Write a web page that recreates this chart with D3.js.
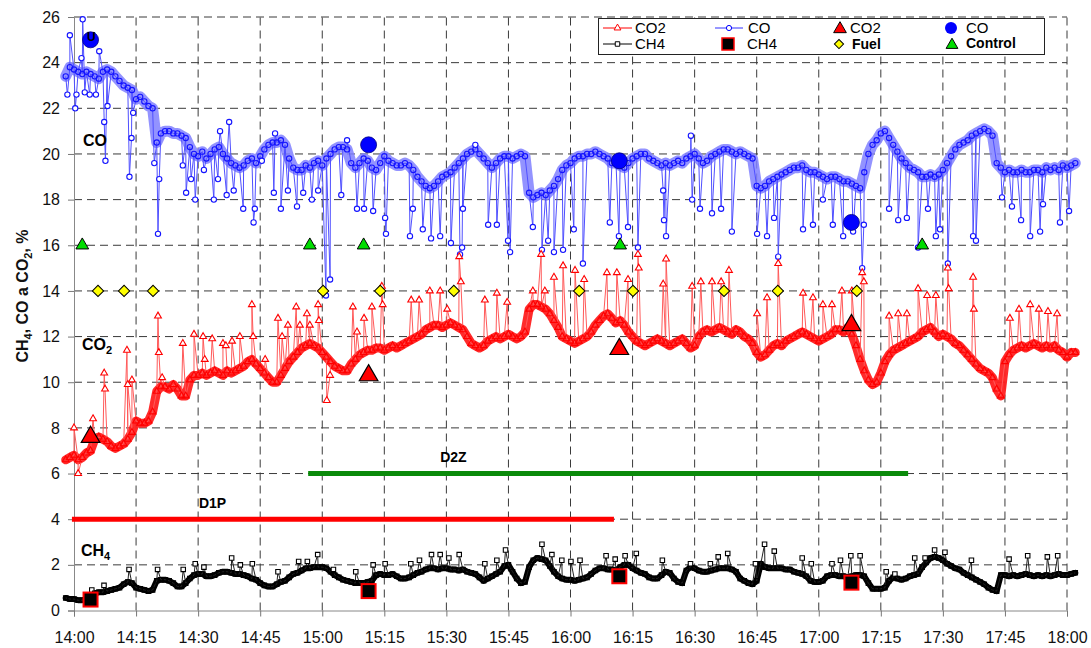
<!DOCTYPE html>
<html>
<head>
<meta charset="utf-8">
<script src="https://cdn.jsdelivr.net/npm/d3@7"></script>
<style>
  body { margin: 0; background: #fff; }
  svg { display: block; font-family: "Liberation Sans", Arial, sans-serif; }
</style>
</head>
<body>
<div id="chart"></div>
<script>
// minutes after 14:00 of the first value in each per-minute series
const startMinute = -2;

const xTickMinutes = [0, 15, 30, 45, 60, 75, 90, 105, 120, 135, 150, 165, 180, 195, 210, 225, 240];
const xTickLabels = ["14:00", "14:15", "14:30", "14:45", "15:00", "15:15", "15:30", "15:45",
  "16:00", "16:15", "16:30", "16:45", "17:00", "17:15", "17:30", "17:45", "18:00"];
const yTicks = [0, 2, 4, 6, 8, 10, 12, 14, 16, 18, 20, 22, 24, 26];

// CO, %  (one value per minute, from 13:58)
const coValues = [
  23.4, 23.8, 23.7, 23.6, 23.5, 23.6, 23.5,
  23.4, 23.3, 23.6, 23.7, 23.6, 23.4, 23.2, 23.0, 22.9, 22.8,
  22.4, 22.5, 22.3, 22.1, 22.0, 20.5, 20.9, 21.0, 21.0, 20.9,
  20.9, 20.8, 20.7, 20.3, 20.0, 19.9, 20.1, 19.8, 20.0, 20.2,
  20.3, 20.0, 19.8, 19.6, 19.5, 19.4, 19.5, 19.7, 19.8, 19.6,
  19.9, 20.2, 20.4, 20.5, 20.5, 20.6, 20.4, 19.8, 19.4, 19.3,
  19.3, 19.5, 19.4, 19.6, 19.7, 19.5, 19.8, 20.0, 20.2, 20.3,
  20.3, 20.2, 19.6, 19.4, 19.6, 19.8, 19.7, 19.4, 19.3, 19.6,
  19.9, 19.7, 19.6, 19.5, 19.5, 19.6, 19.5, 19.3, 19.0, 18.8,
  18.6, 18.5, 18.6, 18.8, 19.0, 19.1, 19.2, 19.4, 19.6, 19.8,
  20.0, 20.1, 20.2, 20.0, 19.8, 19.6, 19.4, 19.6, 19.8, 19.9,
  19.9, 19.8, 19.9, 20.0, 19.9, 18.3, 18.1, 18.2, 18.3, 18.2,
  18.4, 18.6, 18.9, 19.3, 19.5, 19.6, 19.8, 19.9, 19.9, 20.0,
  20.0, 20.1, 20.0, 19.9, 19.8, 19.6, 19.6, 19.5, 19.4, 19.6,
  19.8, 19.9, 20.0, 20.0, 19.8, 19.7, 19.6, 19.5, 19.6, 19.5,
  19.6, 19.7, 19.6, 19.8, 19.9, 20.0, 19.8, 19.6, 19.7, 19.9,
  20.0, 20.1, 20.2, 20.2, 20.1, 20.0, 20.1, 20.0, 19.9, 19.8,
  18.6, 18.5, 18.6, 18.8, 18.9, 19.0, 19.1, 19.2, 19.3, 19.4,
  19.4, 19.5, 19.3, 19.2, 19.2, 19.1, 19.0, 18.9, 19.0, 19.0,
  18.9, 18.8, 18.8, 18.7, 18.6, 18.5, 19.2, 20.0, 20.4, 20.6,
  20.9, 21.0, 20.7, 20.4, 20.1, 19.8, 19.6, 19.4, 19.3, 19.2,
  19.0, 19.0, 19.1, 19.0, 19.1, 19.3, 19.6, 19.9, 20.2, 20.4,
  20.5, 20.6, 20.8, 20.9, 21.0, 21.1, 21.0, 20.8, 19.6, 19.4,
  19.2, 19.3, 19.2, 19.2, 19.3, 19.2, 19.2, 19.3, 19.3, 19.2,
  19.4, 19.3, 19.4, 19.3, 19.5, 19.4, 19.5, 19.6
];
// single CO readings: [minute, %]
const coSpikes = [
  [-1, 25.2], [-1.6, 22.6], [0.3, 22.0], [0.6, 22.6], [1.8, 24.2], [2.1, 25.9], [2.6, 22.7],
  [3.8, 22.6], [5.3, 22.6], [6.1, 24.5], [7.3, 21.4], [7.6, 19.7], [8.1, 22.1],
  [13.4, 19.0], [13.9, 20.7], [14.3, 21.8], [19.4, 19.6], [20.3, 16.5], [20.6, 18.9],
  [26.3, 19.5], [27.1, 18.3], [28.3, 18.9], [29.3, 18.0], [31.4, 19.3], [33.8, 18.0],
  [34.8, 18.9], [35.3, 21.0], [36.9, 18.2], [37.5, 21.4], [38.6, 18.4], [40.9, 17.6],
  [43.4, 17.0], [43.7, 17.6], [45.4, 19.7], [48.3, 18.3], [48.6, 20.9], [50.0, 17.6],
  [51.7, 18.4], [53.9, 17.7], [55.4, 18.3], [57.5, 18.0], [59.0, 18.4], [60.9, 13.8],
  [61.9, 14.5], [64.6, 18.2], [66.0, 20.6], [68.4, 17.6], [70.1, 17.6], [72.3, 17.5],
  [75.2, 17.2], [75.4, 16.5], [81.2, 16.4], [81.9, 17.6], [84.3, 16.7], [86.3, 16.3],
  [88.5, 16.4], [91.1, 16.1], [93.3, 15.6], [93.8, 15.9], [94.0, 17.6], [97.0, 20.4],
  [100.1, 16.9], [102.2, 16.9], [104.9, 16.2], [105.4, 15.7], [110.9, 16.8], [113.1, 15.8],
  [114.6, 16.2], [116.0, 15.7], [118.2, 15.8], [120.8, 16.7], [123.0, 15.2], [129.5, 17.0],
  [131.7, 16.4], [133.9, 16.8], [136.3, 15.9], [142.4, 18.4], [142.6, 17.1], [143.1, 16.4],
  [149.1, 20.8], [149.4, 18.0], [151.3, 17.6], [154.2, 17.4], [156.4, 17.6], [159.0, 16.6],
  [165.1, 16.5], [167.5, 16.4], [169.2, 17.2], [170.2, 15.5], [176.2, 16.7], [178.6, 16.9],
  [181.0, 18.0], [183.4, 16.9], [185.9, 16.4], [188.3, 16.6], [190.5, 15.0], [190.9, 16.9],
  [197.0, 17.6], [199.2, 17.1], [201.3, 17.2], [204.0, 15.9], [206.4, 17.6], [208.3, 16.4],
  [209.3, 16.7], [211.2, 15.2], [217.3, 16.4], [218.0, 16.2], [224.3, 18.1], [226.7, 17.7],
  [228.9, 17.1], [231.1, 16.4], [233.5, 16.6], [234.2, 17.8], [238.3, 17.0], [240.5, 17.5]
];

// CO2, %  (one value per minute, from 13:58)
const co2Values = [
  6.6, 6.7, 6.8, 6.6, 6.7, 6.9, 7.0,
  7.5, 7.6, 7.5, 7.4, 7.2, 7.1, 7.2, 7.3, 7.5, 7.8,
  8.3, 8.2, 8.2, 8.3, 8.7, 9.6, 9.8, 9.8, 9.7, 9.9,
  9.7, 9.4, 9.4, 10.1, 10.3, 10.3, 10.4, 10.3, 10.4, 10.5,
  10.4, 10.3, 10.5, 10.4, 10.5, 10.6, 10.7, 10.9, 11.0, 10.8,
  10.6, 10.4, 10.2, 10.0, 10.0, 10.3, 10.6, 10.9, 11.1, 11.3,
  11.5, 11.6, 11.7, 11.6, 11.5, 11.3, 11.1, 10.9, 10.7, 10.6,
  10.5, 10.5, 10.8, 11.0, 11.2, 11.3, 11.4, 11.4, 11.5, 11.5,
  11.4, 11.5, 11.6, 11.5, 11.6, 11.7, 11.8, 11.9, 12.0, 12.1,
  12.3, 12.4, 12.5, 12.5, 12.4, 12.5, 12.6, 12.5, 12.4, 12.3,
  12.0, 11.7, 11.6, 11.5, 11.6, 11.8, 11.9, 12.0, 11.9, 12.0,
  12.1, 12.0, 11.9, 12.0, 12.2, 13.2, 13.4, 13.4, 13.3, 13.2,
  13.0, 12.7, 12.4, 12.0, 11.9, 11.8, 11.7, 11.8, 11.9, 12.0,
  12.2, 12.5, 12.7, 12.9, 13.0, 12.8, 12.6, 12.7, 12.5, 12.2,
  12.0, 11.8, 11.7, 11.6, 11.7, 11.8, 11.9, 11.8, 11.7, 11.6,
  11.7, 11.8, 11.9, 11.7, 11.5, 11.6, 12.0, 12.2, 12.3, 12.2,
  12.3, 12.4, 12.3, 12.2, 12.1, 12.3, 12.2, 12.0, 11.9, 11.7,
  11.3, 11.1, 11.2, 11.4, 11.6, 11.7, 11.6, 11.8, 11.9, 12.0,
  12.1, 12.2, 12.1, 12.0, 11.9, 11.8, 11.9, 12.0, 12.1, 12.3,
  12.3, 12.2, 12.4, 12.1, 11.6, 11.0, 10.5, 10.1, 9.9, 10.0,
  10.4, 10.9, 11.2, 11.4, 11.5, 11.6, 11.7, 11.8, 11.9, 12.0,
  12.2, 12.3, 12.4, 12.2, 12.0, 12.1, 12.0, 11.9, 11.7, 11.6,
  11.4, 11.2, 11.0, 10.8, 10.6, 10.5, 10.4, 10.2, 9.7, 9.4,
  10.9, 11.2, 11.4, 11.5, 11.6, 11.5, 11.6, 11.7, 11.6, 11.5,
  11.6, 11.5, 11.6, 11.4, 11.3, 11.1, 11.3, 11.3
];
const co2Spikes = [
  [0.0, 8.0], [1.0, 6.0], [4.6, 8.4], [7.3, 10.4], [7.5, 9.7], [12.8, 11.4], [13.0, 9.9],
  [14.0, 10.1], [20.3, 12.9], [20.5, 11.3], [21.3, 10.2], [26.3, 11.7], [29.0, 12.1],
  [31.2, 12.0], [31.6, 11.0], [33.4, 11.9], [36.0, 11.7], [36.7, 11.6], [38.2, 11.8],
  [40.1, 12.0], [43.0, 13.4], [43.3, 12.0], [46.2, 11.0], [49.3, 12.8], [50.3, 12.0],
  [51.7, 12.5], [53.7, 13.3], [54.6, 12.5], [56.3, 13.0], [57.0, 12.5], [59.0, 13.4],
  [59.2, 12.7], [61.1, 9.2], [61.9, 10.3], [67.4, 13.3], [68.4, 12.2], [70.1, 12.8],
  [72.0, 13.3], [74.4, 14.2], [74.6, 13.4], [81.5, 13.6], [83.4, 13.6], [86.0, 14.0],
  [88.5, 14.0], [90.2, 13.2], [93.1, 15.5], [93.5, 14.4], [99.3, 13.6], [102.2, 13.9],
  [104.7, 13.5], [110.9, 14.0], [112.9, 15.6], [113.8, 14.0], [116.0, 14.6], [118.2, 15.1],
  [121.1, 14.9], [123.3, 14.5], [128.8, 14.8], [131.2, 14.8], [133.9, 14.5], [136.3, 15.6],
  [136.5, 15.0], [142.4, 14.3], [143.1, 15.4], [149.4, 14.2], [151.5, 14.4], [154.2, 14.4],
  [156.4, 14.4], [158.3, 14.9], [165.1, 13.0], [167.5, 13.7], [170.2, 15.2], [176.2, 13.9],
  [178.6, 13.7], [181.0, 13.4], [183.2, 13.4], [185.6, 14.0], [188.0, 14.0], [190.5, 14.8],
  [190.9, 14.4], [197.0, 12.9], [199.2, 13.0], [201.3, 13.0], [204.0, 14.1], [206.2, 13.8],
  [208.3, 13.8], [211.2, 15.0], [211.4, 14.1], [217.3, 14.6], [217.5, 13.2], [226.2, 12.8],
  [228.4, 13.2], [231.1, 13.4], [233.2, 13.2], [235.4, 13.1], [237.6, 13.0]
];

// CH4, %  (one value per minute, from 13:58)
const ch4Values = [
  0.55, 0.5, 0.5, 0.45, 0.45, 0.5, 0.55,
  0.75, 0.8, 0.8, 0.85, 0.9, 0.95, 1.0, 1.15, 1.25, 1.2,
  1.0, 0.95, 0.9, 0.85, 0.9, 1.3, 1.35, 1.35, 1.3, 1.2,
  1.05, 1.05, 1.2, 1.4, 1.55, 1.6, 1.6, 1.5, 1.5, 1.55,
  1.65, 1.7, 1.7, 1.65, 1.6, 1.6, 1.55, 1.5, 1.4, 1.35,
  1.2, 1.1, 1.05, 1.05, 1.15, 1.25, 1.3, 1.45, 1.6, 1.65,
  1.75, 1.85, 1.85, 1.9, 1.9, 1.9, 1.85, 1.7, 1.55, 1.45,
  1.35, 1.3, 1.25, 1.2, 1.2, 1.2, 1.25, 1.3, 1.55, 1.6,
  1.55, 1.55, 1.6, 1.5, 1.4, 1.4, 1.45, 1.55, 1.65, 1.7,
  1.8, 1.85, 1.85, 1.8, 1.85, 1.85, 1.8, 1.8, 1.75, 1.8,
  1.7, 1.65, 1.6, 1.45, 1.3, 1.4, 1.5, 1.6, 1.7, 1.95,
  2.0, 1.7, 1.4, 1.2, 1.25, 1.9, 2.2, 2.3, 2.25, 2.2,
  1.95, 1.7, 1.5, 1.4, 1.35, 1.35, 1.3, 1.35, 1.4, 1.45,
  1.6, 1.75, 1.85, 1.85, 1.8, 1.8, 1.75, 1.9, 2.0, 2.0,
  1.85, 1.75, 1.65, 1.6, 1.45, 1.4, 1.4, 1.55, 1.7, 1.65,
  1.4, 1.25, 1.2, 1.75, 1.9, 1.85, 1.75, 1.7, 1.7, 1.75,
  1.8, 1.85, 1.85, 1.85, 1.8, 1.7, 1.4, 1.3, 1.2, 1.15,
  1.3, 2.05, 1.9, 1.85, 1.85, 1.85, 1.85, 1.8, 1.8, 1.7,
  1.65, 1.6, 1.5, 1.3, 1.25, 1.25, 1.3, 1.5, 1.55, 1.55,
  1.5, 1.5, 1.45, 1.5, 1.55, 1.55, 1.5, 1.2, 0.95, 0.95,
  0.95, 1.0, 1.3, 1.45, 1.4, 1.35, 1.4, 1.5, 1.55, 1.6,
  1.9, 2.1, 2.3, 2.35, 2.3, 2.2, 2.05, 1.95, 1.85, 1.8,
  1.65, 1.55, 1.45, 1.35, 1.25, 1.15, 1.0, 0.9, 0.85, 1.55,
  1.55, 1.5, 1.55, 1.5, 1.55, 1.6, 1.55, 1.5, 1.55, 1.5,
  1.55, 1.5, 1.55, 1.6, 1.55, 1.55, 1.6, 1.65
];
const ch4Spikes = [
  [4.3, 0.9], [7.25, 1.1], [13.3, 1.8], [20.2, 1.8], [26.4, 1.8], [29.3, 2.05], [31.4, 1.9],
  [38.1, 2.3], [40.2, 2.0], [43.1, 2.05], [49.3, 1.7], [54.3, 2.15], [56.4, 2.15], [58.9, 2.45],
  [62.7, 1.8], [68.1, 1.7], [72.3, 2.0], [75.2, 2.05], [81.4, 2.05], [83.5, 2.2], [86.4, 2.45],
  [88.5, 2.45], [90.6, 2.3], [93.1, 2.45], [99.3, 2.05], [102.2, 2.2], [104.3, 2.65],
  [113.1, 2.9], [115.5, 2.45], [117.9, 2.2], [120.1, 2.15], [122.3, 2.2], [128.6, 2.4],
  [130.8, 2.25], [133.2, 2.4], [135.9, 2.5], [142.2, 2.2], [149.0, 2.05], [153.8, 2.05],
  [155.7, 2.35], [158.0, 2.5], [164.7, 2.05], [166.9, 2.9], [169.25, 2.6], [176.0, 2.3],
  [178.2, 2.05], [183.2, 2.05], [185.25, 2.2], [187.75, 2.4], [190.0, 2.4], [196.3, 1.7],
  [198.4, 1.6], [203.2, 2.3], [205.7, 2.3], [208.0, 2.65], [210.5, 2.55], [216.9, 2.2],
  [226.0, 2.25], [230.5, 2.4], [235.25, 2.35], [237.75, 2.4]
];

// sample points (large markers)
const sampleMinutes = [4, 71.2, 131.8, 187.9];
const sampleCo = [25.0, 20.4, 19.7, 17.0];
const sampleCo2 = [7.6, 10.3, 11.45, 12.5];
const sampleCh4 = [0.48, 0.85, 1.5, 1.22];

const fuelMinutes = [5.8, 12.1, 19.1, 60.2, 74.0, 91.8, 122.1, 135.1, 157.1, 170.1, 189.2];
const fuelLevel = 14;
const controlMinutes = [2, 57, 70, 132, 205];
const controlLevel = 16;

const phaseNames = ["D1P", "D2Z"];
const phaseStart = [-0.5, 56.6];
const phaseEnd = [130.5, 201.6];
const phaseLevel = [4, 6];

const W = 1091, H = 648;
const svg = d3.select("#chart").append("svg").attr("width", W).attr("height", H);

const x = d3.scaleLinear().domain([0, 240]).range([74, 1067]);
const y = d3.scaleLinear().domain([0, 26]).range([610.5, 17]);

// grid
const grid = svg.append("g").attr("stroke", "#3a3a3a").attr("stroke-dasharray", "8,5");
grid.selectAll("line.h").data(yTicks.filter((d) => d > 0)).join("line")
  .attr("x1", x(0)).attr("x2", x(240))
  .attr("y1", (d) => y(d)).attr("y2", (d) => y(d));
grid.selectAll("line.v").data(xTickMinutes.filter((d) => d > 0)).join("line")
  .attr("x1", (d) => x(d)).attr("x2", (d) => x(d))
  .attr("y1", y(0)).attr("y2", y(26));

// axes
const yAxis = svg.append("g")
  .attr("transform", `translate(${x(0)},0)`)
  .call(d3.axisLeft(y).tickValues(yTicks).tickSize(6).tickPadding(8));
const xAxis = svg.append("g")
  .attr("transform", `translate(0,${y(0)})`)
  .call(d3.axisBottom(x).tickValues(xTickMinutes).tickFormat((d, i) => xTickLabels[i]).tickSize(6).tickPadding(15));
for (const ax of [yAxis, xAxis]) {
  ax.attr("font-family", null).attr("font-size", null);
  ax.select(".domain").attr("stroke", "#888");
  ax.selectAll(".tick line").attr("stroke", "#777");
  ax.selectAll(".tick text").attr("font-size", "16px").attr("fill", "#111");
}

// y title
const yTitle = svg.append("text")
  .attr("transform", "translate(28,296) rotate(-90)")
  .attr("text-anchor", "middle")
  .attr("font-size", "16px").attr("font-weight", "bold").attr("fill", "#111");
yTitle.append("tspan").text("CH");
yTitle.append("tspan").attr("font-size", "11px").attr("dy", 4).text("4");
yTitle.append("tspan").attr("dy", -4).text(", CO a CO");
yTitle.append("tspan").attr("font-size", "11px").attr("dy", 4).text("2");
yTitle.append("tspan").attr("dy", -4).text(", %");

// phase bars
phaseNames.forEach((name, i) => {
  svg.append("line")
    .attr("x1", x(phaseStart[i])).attr("x2", x(phaseEnd[i]))
    .attr("y1", y(phaseLevel[i])).attr("y2", y(phaseLevel[i]))
    .attr("stroke", i === 0 ? "#ff0000" : "#0a8a0a")
    .attr("stroke-width", 5);
});
svg.append("text").attr("x", x(30.2)).attr("y", y(4) - 11)
  .attr("font-size", "14px").attr("font-weight", "bold").text(phaseNames[0]);
svg.append("text").attr("x", x(88.5)).attr("y", y(6) - 12)
  .attr("font-size", "14px").attr("font-weight", "bold").text(phaseNames[1]);

const line = d3.line().x((d) => x(d.t)).y((d) => y(d.v));

function drawSeries(values, spikes, o) {
  const base = values.map((v, i) => ({ t: startMinute + i, v, spike: false }));
  const all = base.concat(spikes.map(([t, v]) => ({ t, v, spike: true }))).sort((a, b) => a.t - b.t);
  const g = svg.append("g");
  g.append("path").datum(base).attr("d", line)
    .attr("fill", "none").attr("stroke", o.band).attr("stroke-width", o.bandWidth)
    .attr("stroke-linejoin", "round").attr("stroke-linecap", "round").attr("opacity", o.bandOpacity);
  g.append("path").datum(all).attr("d", line)
    .attr("fill", "none").attr("stroke", o.line).attr("stroke-width", 1);
  g.selectAll("path.mk").data(all).join("path")
    .attr("class", "mk")
    .attr("transform", (d) => `translate(${x(d.t)},${y(d.v)})`)
    .attr("d", d3.symbol(o.symbol, o.size))
    .attr("fill", (d) => (d.spike ? "#fff" : "none"))
    .attr("stroke", o.color).attr("stroke-width", 1.1);
}

drawSeries(coValues, coSpikes, {
  band: "#8080ff", bandWidth: 11, bandOpacity: 0.85, line: "#5050ff",
  color: "#1414ff", symbol: d3.symbolCircle, size: 22
});
drawSeries(co2Values, co2Spikes, {
  band: "#ff2020", bandWidth: 9, bandOpacity: 0.95, line: "#ff5a5a",
  color: "#ff0000", symbol: d3.symbolTriangle, size: 20
});
drawSeries(ch4Values, ch4Spikes, {
  band: "#000", bandWidth: 6, bandOpacity: 1, line: "#222",
  color: "#000", symbol: d3.symbolSquare, size: 20
});

// control and fuel markers
svg.append("g").selectAll("path").data(controlMinutes).join("path")
  .attr("transform", (d) => `translate(${x(d)},${y(controlLevel)})`)
  .attr("d", d3.symbol(d3.symbolTriangle, 70))
  .attr("fill", "#00dd00").attr("stroke", "#000").attr("stroke-width", 1);
svg.append("g").selectAll("path").data(fuelMinutes).join("path")
  .attr("transform", (d) => `translate(${x(d)},${y(fuelLevel)}) rotate(45)`)
  .attr("d", d3.symbol(d3.symbolSquare, 64))
  .attr("fill", "#ffff00").attr("stroke", "#000").attr("stroke-width", 1);

// sample markers
svg.append("g").selectAll("circle").data(sampleMinutes).join("circle")
  .attr("cx", (d) => x(d)).attr("cy", (d, i) => y(sampleCo[i])).attr("r", 8)
  .attr("fill", "#0000ff").attr("stroke", "#000080").attr("stroke-width", 0.8);
svg.append("g").selectAll("path").data(sampleMinutes).join("path")
  .attr("transform", (d, i) => `translate(${x(d)},${y(sampleCo2[i])})`)
  .attr("d", d3.symbol(d3.symbolTriangle, 150))
  .attr("fill", "#ff0000").attr("stroke", "#000").attr("stroke-width", 1.2);
svg.append("g").selectAll("rect").data(sampleMinutes).join("rect")
  .attr("x", (d) => x(d) - 7).attr("y", (d, i) => y(sampleCh4[i]) - 7)
  .attr("width", 14).attr("height", 14)
  .attr("fill", "#000").attr("stroke", "#ff0000").attr("stroke-width", 2);

// in-plot labels
svg.append("text").attr("x", 87).attr("y", 41).attr("font-size", "12px").attr("font-weight", "bold").text("U");
svg.append("text").attr("x", 83).attr("y", 146).attr("font-size", "16px").attr("font-weight", "bold").text("CO");
const co2Label = svg.append("text").attr("x", 82).attr("y", 350).attr("font-size", "16px").attr("font-weight", "bold");
co2Label.append("tspan").text("CO");
co2Label.append("tspan").attr("font-size", "11px").attr("dy", 4).text("2");
const ch4Label = svg.append("text").attr("x", 81).attr("y", 556).attr("font-size", "16px").attr("font-weight", "bold");
ch4Label.append("tspan").text("CH");
ch4Label.append("tspan").attr("font-size", "11px").attr("dy", 4).text("4");

// legend
const lg = svg.append("g");
lg.append("rect").attr("x", 598.5).attr("y", 18.5).attr("width", 446).attr("height", 36)
  .attr("fill", "#fff").attr("stroke", "#222").attr("stroke-width", 1);
const r1 = 28, r2 = 44;
function legendLine(y0, color, sym, label) {
  lg.append("line").attr("x1", 603).attr("x2", 632).attr("y1", y0).attr("y2", y0).attr("stroke", color);
  lg.append("path").attr("transform", `translate(617.5,${y0})`).attr("d", d3.symbol(sym, 20))
    .attr("fill", "#fff").attr("stroke", color);
  lg.append("text").attr("x", 635).attr("y", y0 + 5).attr("font-size", "15px").text(label);
}
legendLine(r1, "#ff0000", d3.symbolTriangle, "CO2");
legendLine(r2, "#000", d3.symbolSquare, "CH4");
lg.append("line").attr("x1", 715).attr("x2", 743).attr("y1", r1).attr("y2", r1).attr("stroke", "#3030ff");
lg.append("circle").attr("cx", 729).attr("cy", r1).attr("r", 2.6).attr("fill", "#fff").attr("stroke", "#0000ff");
lg.append("text").attr("x", 748).attr("y", r1 + 5).attr("font-size", "15px").text("CO");
lg.append("rect").attr("x", 722).attr("y", r2 - 6).attr("width", 12).attr("height", 12)
  .attr("fill", "#000").attr("stroke", "#ff0000").attr("stroke-width", 1.5);
lg.append("text").attr("x", 747).attr("y", r2 + 5).attr("font-size", "15px").text("CH4");
lg.append("path").attr("transform", `translate(840,${r1 + 1})`).attr("d", d3.symbol(d3.symbolTriangle, 70))
  .attr("fill", "#ff0000").attr("stroke", "#000");
lg.append("text").attr("x", 850).attr("y", r1 + 5).attr("font-size", "15px").text("CO2");
lg.append("path").attr("transform", `translate(839,${r2}) rotate(45)`).attr("d", d3.symbol(d3.symbolSquare, 42))
  .attr("fill", "#ffff00").attr("stroke", "#000");
lg.append("text").attr("x", 852).attr("y", r2 + 5).attr("font-size", "14px").attr("font-weight", "bold").text("Fuel");
lg.append("circle").attr("cx", 951).attr("cy", r1).attr("r", 6).attr("fill", "#0000ff");
lg.append("text").attr("x", 966).attr("y", r1 + 5).attr("font-size", "15px").text("CO");
lg.append("path").attr("transform", `translate(952,${r2 + 1})`).attr("d", d3.symbol(d3.symbolTriangle, 60))
  .attr("fill", "#00dd00").attr("stroke", "#000");
lg.append("text").attr("x", 966).attr("y", r2 + 4).attr("font-size", "14px").attr("font-weight", "bold").text("Control");
</script>
</body>
</html>
